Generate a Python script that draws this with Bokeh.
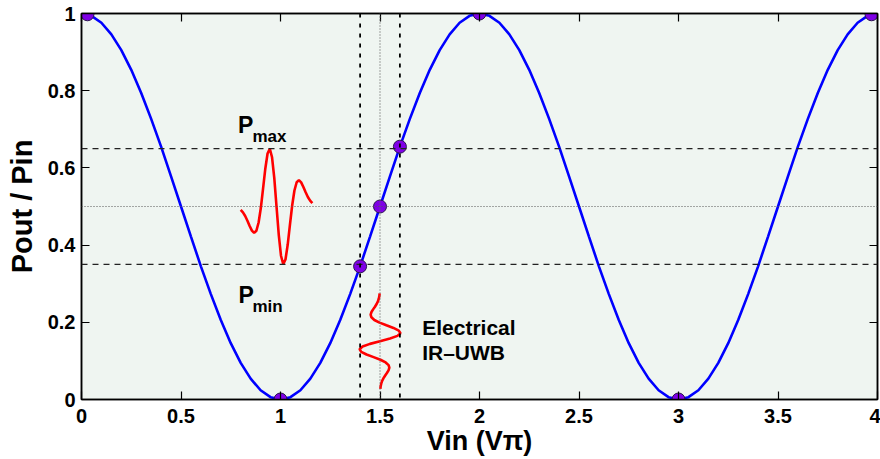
from bokeh.plotting import figure
from bokeh.models import Span, LinearAxis, FixedTicker, Range1d
from bokeh.core.properties import value
from bokeh.embed import file_html
from bokeh.resources import INLINE

# ---- data ----
vin = [0.0, 0.05, 0.1, 0.15, 0.2, 0.25, 0.3, 0.35, 0.4, 0.45, 0.5, 0.55, 0.6, 0.65, 0.7, 0.75, 0.8, 0.85, 0.9, 0.95,
       1.0, 1.05, 1.1, 1.15, 1.2, 1.25, 1.3, 1.35, 1.4, 1.45, 1.5, 1.55, 1.6, 1.65, 1.7, 1.75, 1.8, 1.85, 1.9, 1.95,
       2.0, 2.05, 2.1, 2.15, 2.2, 2.25, 2.3, 2.35, 2.4, 2.45, 2.5, 2.55, 2.6, 2.65, 2.7, 2.75, 2.8, 2.85, 2.9, 2.95,
       3.0, 3.05, 3.1, 3.15, 3.2, 3.25, 3.3, 3.35, 3.4, 3.45, 3.5, 3.55, 3.6, 3.65, 3.7, 3.75, 3.8, 3.85, 3.9, 3.95, 4.0]
pout = [1.000, 0.994, 0.976, 0.946, 0.905, 0.854, 0.794, 0.727, 0.655, 0.578, 0.500, 0.422, 0.345, 0.273, 0.206, 0.146, 0.095, 0.054, 0.024, 0.006,
        0.000, 0.006, 0.024, 0.054, 0.095, 0.146, 0.206, 0.273, 0.345, 0.422, 0.500, 0.578, 0.655, 0.727, 0.794, 0.854, 0.905, 0.946, 0.976, 0.994,
        1.000, 0.994, 0.976, 0.946, 0.905, 0.854, 0.794, 0.727, 0.655, 0.578, 0.500, 0.422, 0.345, 0.273, 0.206, 0.146, 0.095, 0.054, 0.024, 0.006,
        0.000, 0.006, 0.024, 0.054, 0.095, 0.146, 0.206, 0.273, 0.345, 0.422, 0.500, 0.578, 0.655, 0.727, 0.794, 0.854, 0.905, 0.946, 0.976, 0.994, 1.000]

mark_x = [0.03, 1.0, 1.4, 1.5, 1.6, 2.0, 3.0, 3.97]
mark_y = [0.998, 0.0, 0.345, 0.5, 0.655, 1.0, 0.0, 0.998]

h_dashed = [0.65, 0.35]
h_dotted = [0.5]
v_dashed = [1.4, 1.6]
v_dotted = [1.5]

# optical output pulse (horizontal wavelet)
opt_x = [0.8000, 0.8113, 0.8225, 0.8338, 0.8450, 0.8563, 0.8675, 0.8788, 0.8900, 0.9013, 0.9125,
         0.9238, 0.9350, 0.9463, 0.9575, 0.9688, 0.9800, 0.9913, 1.0025, 1.0138, 1.0250, 1.0363,
         1.0475, 1.0588, 1.0700, 1.0813, 1.0925, 1.1038, 1.1150, 1.1263, 1.1375, 1.1488, 1.1600]
opt_y = [0.4911, 0.4847, 0.4753, 0.4632, 0.4496, 0.4375, 0.4316, 0.4372, 0.4586, 0.4967, 0.5469,
         0.5986, 0.6374, 0.6496, 0.6275, 0.5734, 0.5000, 0.4266, 0.3725, 0.3504, 0.3626, 0.4014,
         0.4531, 0.5033, 0.5414, 0.5628, 0.5684, 0.5625, 0.5504, 0.5368, 0.5247, 0.5153, 0.5089]

# electrical IR-UWB drive pulse (vertical wavelet)
el_x = [1.5017, 1.5033, 1.5061, 1.5105, 1.5170, 1.5253, 1.5346, 1.5429, 1.5470, 1.5431, 1.5284,
        1.5023, 1.4678, 1.4323, 1.4056, 1.3972, 1.4124, 1.4496, 1.5000, 1.5504, 1.5876, 1.6028,
        1.5944, 1.5677, 1.5322, 1.4977, 1.4716, 1.4569, 1.4530, 1.4571, 1.4654, 1.4747, 1.4830,
        1.4895, 1.4939, 1.4967, 1.4983]
el_y = [0.0273, 0.0341, 0.0410, 0.0479, 0.0548, 0.0616, 0.0685, 0.0754, 0.0823, 0.0891, 0.0960,
        0.1029, 0.1098, 0.1166, 0.1235, 0.1304, 0.1373, 0.1441, 0.1510, 0.1579, 0.1648, 0.1716,
        0.1785, 0.1854, 0.1923, 0.1991, 0.2060, 0.2129, 0.2198, 0.2266, 0.2335, 0.2404, 0.2473,
        0.2541, 0.2610, 0.2679, 0.2748]

x_ticks = [0, 0.5, 1, 1.5, 2, 2.5, 3, 3.5, 4]
x_tick_labels = ["0", "0.5", "1", "1.5", "2", "2.5", "3", "3.5", "4"]
y_ticks = [0, 0.2, 0.4, 0.6, 0.8, 1]
y_tick_labels = ["0", "0.2", "0.4", "0.6", "0.8", "1"]

FONT = "Liberation Sans"

p = figure(width=880, height=459, x_range=Range1d(0, 4), y_range=Range1d(0, 1),
           output_backend="svg", toolbar_location=None,
           min_border_left=81, min_border_right=3, min_border_top=13, min_border_bottom=60,
           background_fill_color="#eff5f1", border_fill_color="white")
p.grid.visible = False
p.outline_line_color = "black"
p.outline_line_width = 1.5

p.xaxis.ticker = FixedTicker(ticks=x_ticks)
p.yaxis.ticker = FixedTicker(ticks=y_ticks)
p.xaxis.major_label_overrides = dict(zip(x_ticks, x_tick_labels))
p.yaxis.major_label_overrides = dict(zip(y_ticks, y_tick_labels))
for ax in (p.xaxis[0], p.yaxis[0]):
    ax.major_tick_in = 8
    ax.major_tick_out = 0
    ax.minor_tick_line_color = None
    ax.axis_line_width = 1.5
    ax.axis_line_color = "black"
    ax.major_tick_line_color = "black"
    ax.major_tick_line_width = 1.2
    ax.major_label_text_font = FONT
    ax.major_label_text_font_style = "bold"
    ax.major_label_text_font_size = "20px"
    ax.major_label_text_color = "black"
    ax.axis_label_text_font = FONT
    ax.axis_label_text_font_style = "bold"
    ax.axis_label_text_color = "black"
p.xaxis.axis_label = "Vin (V\u03c0)"
p.yaxis.axis_label = "Pout / Pin"
p.xaxis.axis_label_text_font_size = "27px"
p.yaxis.axis_label_text_font_size = "29px"
p.xaxis.major_label_standoff = 9
p.xaxis.axis_label_standoff = 0
p.yaxis.major_label_standoff = 6
p.yaxis.axis_label_standoff = 7

for ticks, place in ((x_ticks, "above"), (y_ticks, "right")):
    ax = LinearAxis(ticker=FixedTicker(ticks=ticks),
                    major_label_overrides={t: "" for t in ticks},
                    major_label_text_font_size="1px",
                    major_label_standoff=0, major_tick_in=8, major_tick_out=0,
                    minor_tick_line_color=None, axis_line_width=1.5, axis_line_color="black",
                    major_tick_line_width=1.2)
    p.add_layout(ax, place)

for v in h_dashed:
    p.add_layout(Span(location=v, dimension="width", line_color="#222222", line_width=1.2, line_dash="6 5"))
for v in h_dotted:
    p.add_layout(Span(location=v, dimension="width", line_color="#555555", line_width=1, line_dash="1 2"))
for v in v_dashed:
    p.add_layout(Span(location=v, dimension="height", line_color="black", line_width=1.8, line_dash="4 6"))
for v in v_dotted:
    p.add_layout(Span(location=v, dimension="height", line_color="#666666", line_width=1.2, line_dash="1 2"))

p.line(vin, pout, line_color="#0000ff", line_width=2.6)
p.line(opt_x, opt_y, line_color="#ff0000", line_width=2.6)
p.line(el_x, el_y, line_color="#ff0000", line_width=2.6)
p.scatter(mark_x, mark_y, size=13, fill_color="#7f00e6", line_color="#2b1650", line_width=1)

txt = dict(text_font=value(FONT), text_font_style="bold", text_color="black",
           text_align="left", text_baseline="alphabetic")
p.text(x=[0.787], y=[0.712], text=["P"], text_font_size="23px", **txt)
p.text(x=[0.859], y=[0.682], text=["max"], text_font_size="17px", **txt)
p.text(x=[0.789], y=[0.272], text=["P"], text_font_size="23px", **txt)
p.text(x=[0.859], y=[0.242], text=["min"], text_font_size="17px", **txt)
p.text(x=[1.712], y=[0.186], text=["Electrical"], text_font_size="21px", **txt)
p.text(x=[1.712], y=[0.121], text=["IR\u2013UWB"], text_font_size="21px", **txt)

open("out.html", "w").write(file_html(p, INLINE))
